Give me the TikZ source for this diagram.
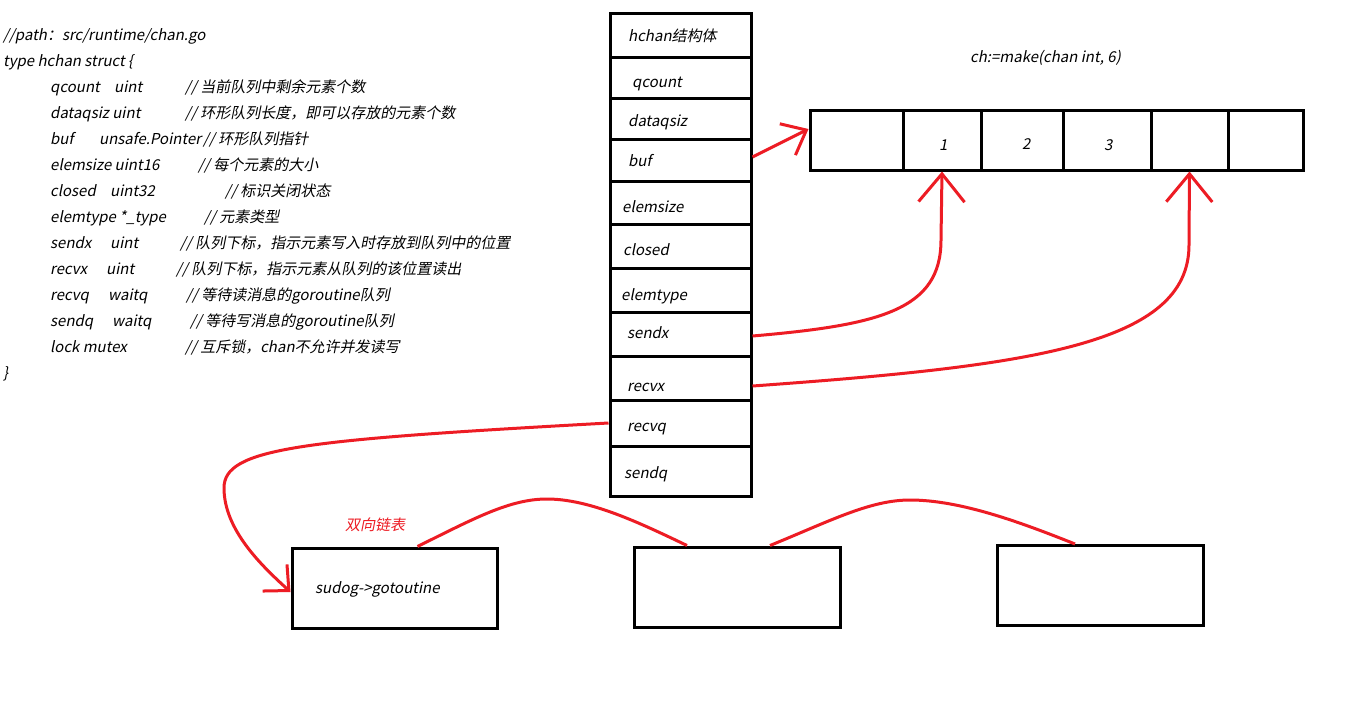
\documentclass[tikz,border=0pt]{standalone}
\usepackage{fontspec}
\setmainfont[FakeSlant=0.2]{Noto Sans CJK SC}
\usetikzlibrary{arrows.meta}
\definecolor{pred}{RGB}{237,28,36}
\begin{document}
\begin{tikzpicture}[x=1pt,y=-1pt,
  txt/.style={anchor=base west,inner sep=0pt,font=\fontsize{15}{18}\selectfont},
  rowbox/.style={draw,line width=3pt,minimum width=141pt,inner sep=0pt},
  cellbox/.style={draw,line width=3pt,minimum height=60pt,inner sep=0pt},
  sbox/.style={draw,line width=3pt,inner sep=0pt},
  link/.style={draw=pred,line width=3pt},
  arr/.style={link,-{Straight Barb[length=28pt,width=46pt,line width=3pt]}},
  arrs/.style={link,-{Straight Barb[length=21pt,width=35pt,line width=3pt]}},
  arrq/.style={link,-{Straight Barb[length=19pt,width=36pt,line width=3pt]}}]
\useasboundingbox (0,0) rectangle (1360,705);
\fill[white] (0,0) rectangle (1360,705);

% code text
\node[txt] (l1) at (3,40) {//path：src/runtime/chan.go};
\node[txt] (l2) at (3,66) {type hchan struct \{};
\node[txt] (a1) at (50,92) {qcount};
\node[txt] (b1) at (114,92) {uint};
\node[txt] (c1) at (185,92) {// 当前队列中剩余元素个数};
\node[txt] (a2) at (50,118) {dataqsiz uint};
\node[txt] (c2) at (185,118) {// 环形队列长度，即可以存放的元素个数};
\node[txt] (a3) at (50,144) {buf};
\node[txt] (b3) at (99,144) {unsafe.Pointer};
\node[txt] (c3) at (203,144) {// 环形队列指针};
\node[txt] (a4) at (50,170) {elemsize uint16};
\node[txt] (c4) at (198,170) {// 每个元素的大小};
\node[txt] (a5) at (50,196) {closed};
\node[txt] (b5) at (110,196) {uint32};
\node[txt] (c5) at (225,196) {// 标识关闭状态};
\node[txt] (a6) at (50,222) {elemtype *\_type};
\node[txt] (c6) at (204,222) {// 元素类型};
\node[txt] (a7) at (50,248) {sendx};
\node[txt] (b7) at (110,248) {uint};
\node[txt] (c7) at (180,248) {// 队列下标，指示元素写入时存放到队列中的位置};
\node[txt] (a8) at (50,274) {recvx};
\node[txt] (b8) at (106,274) {uint};
\node[txt] (c8) at (176,274) {// 队列下标，指示元素从队列的该位置读出};
\node[txt] (a9) at (50,300) {recvq};
\node[txt] (b9) at (108,300) {waitq};
\node[txt] (c9) at (186,300) {// 等待读消息的goroutine队列};
\node[txt] (a10) at (50,326) {sendq};
\node[txt] (b10) at (112,326) {waitq};
\node[txt] (c10) at (190,326) {// 等待写消息的goroutine队列};
\node[txt] (a11) at (50,352) {lock mutex};
\node[txt] (c11) at (185,352) {// 互斥锁，chan不允许并发读写};
\node[txt] (l13) at (3,378) {\}};

% hchan table
\node[rowbox,minimum height=44pt] (hdr) at (680.5,35) {};
\node[rowbox,minimum height=41pt] (qcount) at (680.5,77.5) {};
\node[rowbox,minimum height=41pt] (dataqsiz) at (680.5,118.5) {};
\node[rowbox,minimum height=42pt] (buf) at (680.5,160) {};
\node[rowbox,minimum height=43pt] (elemsize) at (680.5,202.5) {};
\node[rowbox,minimum height=44pt] (closed) at (680.5,246) {};
\node[rowbox,minimum height=44pt] (elemtype) at (680.5,290) {};
\node[rowbox,minimum height=44pt] (sendx) at (680.5,334) {};
\node[rowbox,minimum height=44pt] (recvx) at (680.5,378) {};
\node[rowbox,minimum height=46pt] (recvq) at (680.5,423) {};
\node[rowbox,minimum height=50pt] (sendq) at (680.5,471) {};

\node[txt] (t0) at (628,41) {hchan结构体};
\node[txt] (t1) at (632,87) {qcount};
\node[txt] (t2) at (628,126) {dataqsiz};
\node[txt] (t3) at (628,166) {buf};
\node[txt] (t4) at (622,212) {elemsize};
\node[txt] (t5) at (623,255) {closed};
\node[txt] (t6) at (621,300) {elemtype};
\node[txt] (t7) at (627,338) {sendx};
\node[txt] (t8) at (627,391) {recvx};
\node[txt] (t9) at (627,431) {recvq};
\node[txt] (t10) at (624,478) {sendq};

% array
\node[txt] (mk) at (970,62) {ch:=make(chan int, 6)};
\node[cellbox,minimum width=93pt] (k0) at (856.5,140) {};
\node[cellbox,minimum width=78pt] (k1) at (942,140) {};
\node[cellbox,minimum width=82pt] (k2) at (1022,140) {};
\node[cellbox,minimum width=88pt] (k3) at (1107,140) {};
\node[cellbox,minimum width=77pt] (k4) at (1189.5,140) {};
\node[cellbox,minimum width=75pt] (k5) at (1265.5,140) {};
\node[txt] (n1) at (939,150) {1};
\node[txt] (n2) at (1022,149) {2};
\node[txt] (n3) at (1104,150) {3};

% sudog boxes
\node[sbox,minimum width=205pt,minimum height=80pt] (s1) at (394.5,588) {};
\node[sbox,minimum width=206pt,minimum height=80pt] (s2) at (737,587) {};
\node[sbox,minimum width=206pt,minimum height=80pt] (s3) at (1100,585.5) {};
\node[txt] (sg) at (315,593) {sudog->gotoutine};
\node[txt,text=pred] (dl) at (345,530) {双向链表};

% connectors
\draw[arrs] ([yshift=3pt]buf.east) -- ([yshift=11pt]k0.west);
\draw[arr] ([yshift=-2pt]sendx.east) .. controls (880,325) and (941,310) .. (941,240) -- (k1.south);
\draw[arr] ([yshift=-8pt]recvx.east) .. controls (1030,366) and (1189,345) .. (1189,245) -- (k4.south);
\draw[arrq] (recvq.west) .. controls (300,440) and (224,448) .. (224,488)
  .. controls (224,530) and (262,566) .. ([yshift=-4pt]s1.west);
\draw[link] ([xshift=23pt]s1.north) .. controls (475,518) and (510,499) .. (547,499)
  .. controls (590,499) and (640,523) .. ([xshift=-50pt]s2.north);
\draw[link] ([xshift=33pt]s2.north) .. controls (830,521) and (870,500) .. (910,500)
  .. controls (960,500) and (1020,522) .. ([xshift=-25pt]s3.north);
\end{tikzpicture}
\end{document}
